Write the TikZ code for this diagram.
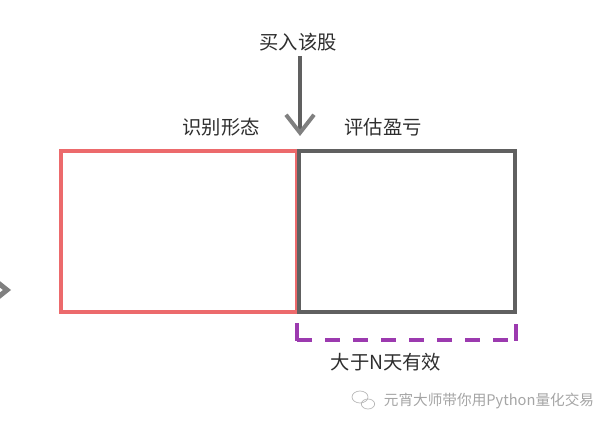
\documentclass[tikz,border=0pt]{standalone}
\usepackage{fontspec}
\newfontfamily\cjk{Noto Sans CJK SC}
\usetikzlibrary{arrows.meta}
\definecolor{redline}{RGB}{236,106,108}
\definecolor{grayline}{RGB}{96,96,96}
\definecolor{headgray}{RGB}{128,128,128}
\definecolor{purpleline}{RGB}{156,58,175}
\definecolor{marktext}{RGB}{165,165,165}

\begin{document}
\begin{tikzpicture}[
    x=0.03cm, y=-0.03cm,
    stagebox/.style={draw=#1, line width=2.6pt, inner sep=0pt},
    phase/.style={font=\cjk\fontsize{16.5}{18}\selectfont, text=black!82, inner sep=0pt},
    buyarrow/.style={line width=3.4pt, draw=grayline,
        -{Straight Barb[length=5.4mm, width=8.4mm, color=headgray]}},
    window/.style={draw=purpleline, line width=2.6pt}
]
    \useasboundingbox (0,0) rectangle (615,429);
    \clip (0,0) rectangle (615,429);

    % two stages
    \node[stagebox=redline, minimum width=7.08cm, minimum height=4.83cm] (identify) at (179,231.5) {};
    \node[stagebox=grayline, minimum width=6.48cm, minimum height=4.83cm] (evaluate) at (407,231.5) {};
    \node[phase] (identifylabel) at (221,127) {识别形态};
    \node[phase] (evaluatelabel) at (383,127) {评估盈亏};

    % entry point
    \node[phase] (buy) at (298,42) {买入该股};
    \coordinate (entry) at (300,136);
    \draw[buyarrow, shorten <=0.15cm] (buy.south -| entry) -- (entry);

    % holding window
    \draw[window] (297,323) -- (297,341.4);
    \draw[window, dash pattern=on 0.45cm off 0.39cm] (297,340) -- (516,340);
    \draw[window] (516,324) -- (516,341.4);
    \node[phase] (validlabel) at (386,362) {大于N天有效};

    % arrow cut off at the left edge
    \draw[headgray, line width=0.15cm] (-8,278) -- (7,290) -- (-8,302);

    % watermark
    \draw[marktext!80, line width=0.6pt] (360,397) ellipse [x radius=0.24cm, y radius=0.18cm];
    \draw[marktext!80, line width=0.6pt] (368,404) ellipse [x radius=0.2cm, y radius=0.15cm];
    \node[font=\cjk\fontsize{12.5}{14}\selectfont, text=marktext, inner sep=0pt] (mark) at (489,401) {元宵大师带你用Python量化交易};
\end{tikzpicture}
\end{document}
